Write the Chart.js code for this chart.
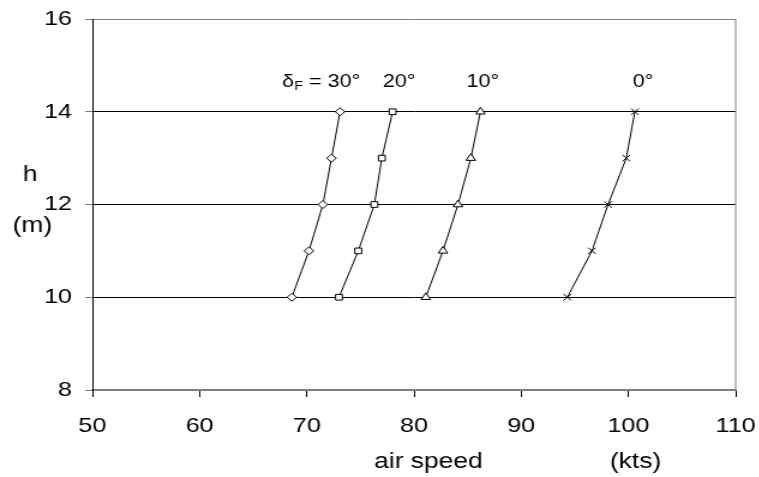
<!DOCTYPE html>
<html>
<head>
<meta charset="utf-8">
<script src="https://cdn.jsdelivr.net/npm/chart.js@4/dist/chart.umd.min.js"></script>
<style>
  html, body { margin: 0; padding: 0; background: #fff; overflow: hidden; }
  /* reference text is horizontally stretched, so draw narrow and stretch */
  #flapChart { display: block; transform: scaleX(1.2); transform-origin: 0 0; }
</style>
</head>
<body>
<canvas id="flapChart" width="633" height="477"></canvas>
<script>
// heights (m)
const heights = [10, 11, 12, 13, 14];

// air speed (kts) per flap setting
const speed30 = [68.6, 70.2, 71.5, 72.3, 73.1];
const speed20 = [73.0, 74.8, 76.3, 77.0, 78.0];
const speed10 = [81.1, 82.7, 84.1, 85.3, 86.2];
const speed0 = [94.3, 96.6, 98.1, 99.8, 100.6];

const xTicks = [50, 60, 70, 80, 90, 100, 110];
const yTicks = [8, 10, 12, 14, 16];

// curve labels (x value where the text starts)
const curveLabels = [
    { sub: true, text: '30°', x: 67.7 },
    { sub: false, text: '20°', x: 77.1 },
    { sub: false, text: '10°', x: 84.9 },
    { sub: false, text: '0°', x: 100.4 }
];
const labelY = 14.64;

const FONT = '"Liberation Sans", Arial, sans-serif';

function series(xs, shape, r) {
    return {
        data: xs.map((v, i) => ({ x: v, y: heights[i] })),
        showLine: true,
        borderColor: '#000',
        borderWidth: 1,
        backgroundColor: '#fff',
        pointStyle: shape,
        pointRadius: r,
        pointBorderColor: '#000',
        pointBackgroundColor: '#fff',
        pointBorderWidth: 1
    };
}

const extras = {
    id: 'extras',
    afterDraw(chart) {
        const ctx = chart.ctx;
        const a = chart.chartArea;
        const xs = chart.scales.x, ys = chart.scales.y;
        ctx.save();
        // right frame line
        ctx.strokeStyle = '#808080';
        ctx.lineWidth = 1;
        ctx.beginPath();
        ctx.moveTo(a.right, a.top);
        ctx.lineTo(a.right, a.bottom);
        ctx.stroke();

        ctx.fillStyle = '#000';
        ctx.textBaseline = 'middle';
        ctx.textAlign = 'left';
        const py = ys.getPixelForValue(labelY);
        curveLabels.forEach(l => {
            let px = xs.getPixelForValue(l.x);
            ctx.font = '18px ' + FONT;
            if (l.sub) {
                ctx.fillText('δ', px, py);
                px += ctx.measureText('δ').width;
                ctx.font = '12px ' + FONT;
                ctx.fillText('F', px, py + 5);
                px += ctx.measureText('F').width;
                ctx.font = '18px ' + FONT;
                ctx.fillText(' = ' + l.text, px, py);
            } else {
                ctx.fillText(l.text, px, py);
            }
        });

        // axis titles
        ctx.font = '22px ' + FONT;
        ctx.textAlign = 'center';
        ctx.textBaseline = 'alphabetic';
        ctx.fillText('air speed', xs.getPixelForValue(81.35), 468);
        ctx.fillText('(kts)', xs.getPixelForValue(100.67), 468);
        ctx.textBaseline = 'middle';
        ctx.fillText('h', 25, 175);
        ctx.fillText('(m)', 27, 226);
        ctx.restore();
    }
};

const config = {
    type: 'scatter',
    data: {
        datasets: [
            series(speed30, 'rectRot', 4),
            series(speed20, 'rect', 4),
            series(speed10, 'triangle', 4.5),
            series(speed0, 'crossRot', 4.5)
        ]
    },
    options: {
        responsive: false,
        animation: false,
        devicePixelRatio: 1,
        layout: { padding: { top: 19, right: 20, left: 0, bottom: 0 } },
        plugins: {
            legend: { display: false },
            tooltip: { enabled: false }
        },
        scales: {
            x: {
                type: 'linear',
                min: 50,
                max: 110,
                afterBuildTicks: s => { s.ticks = xTicks.map(v => ({ value: v })); },
                afterFit: s => { s.height = 87; s.paddingLeft = 0; s.paddingRight = 0; },
                ticks: {
                    color: '#000',
                    font: { family: FONT, size: 21 },
                    padding: 17
                },
                grid: {
                    drawOnChartArea: false,
                    tickLength: 7,
                    tickColor: '#000'
                },
                border: { color: '#808080', width: 2 }
            },
            y: {
                min: 8,
                max: 16,
                afterBuildTicks: s => { s.ticks = yTicks.map(v => ({ value: v })); },
                afterFit: s => { s.width = 77; s.paddingTop = 0; s.paddingBottom = 0; },
                ticks: {
                    color: '#000',
                    font: { family: FONT, size: 21 },
                    padding: 11
                },
                grid: {
                    color: c => c.tick.value === 16 ? '#808080' : (c.tick.value === 8 ? 'rgba(0,0,0,0)' : '#000'),
                    tickLength: 6,
                    tickColor: '#808080'
                },
                border: { color: '#000', width: 1 }
            }
        }
    },
    plugins: [extras]
};

const ctx = document.getElementById('flapChart').getContext('2d');
new Chart(ctx, config);
</script>
</body>
</html>
